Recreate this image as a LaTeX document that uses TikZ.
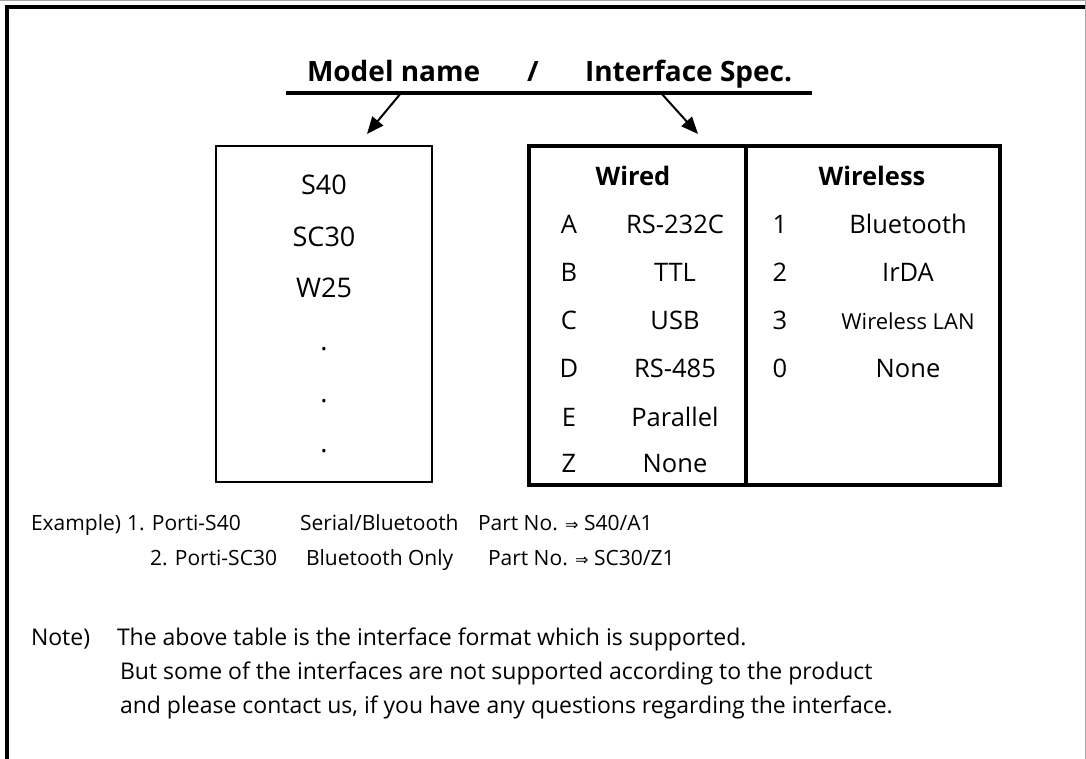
\documentclass[tikz,border=0pt]{standalone}
\usepackage{fontspec}
\setmainfont{Open Sans}
\newfontfamily\symfont{DejaVu Sans}
\usetikzlibrary{arrows.meta}
\tikzset{
  every node/.style={inner sep=0pt, outer sep=0pt},
  titletext/.style={font=\fontsize{28}{32}\selectfont\bfseries, anchor=base west},
  boxtext/.style={font=\fontsize{27}{32}\selectfont, anchor=base},
  tabtext/.style={font=\fontsize{25.5}{30}\selectfont, anchor=base},
  tabhead/.style={font=\fontsize{25.5}{30}\selectfont\bfseries, anchor=base},
  extext/.style={font=\fontsize{21}{26}\selectfont, anchor=base west},
  bodytext/.style={font=\fontsize{23}{27}\selectfont, anchor=base west},
  pointer/.style={line width=2pt, -{Triangle[length=17pt,width=14pt]}},
  thinbox/.style={draw, line width=1.5pt},
  thickbox/.style={draw, line width=4pt},
}
\newcommand{\Rarr}{{\symfont\fontsize{16}{20}\selectfont ⇒}}
\begin{document}
\begin{tikzpicture}[x=1pt,y=-1pt]
\useasboundingbox (0,0) rectangle (1086,759);
% page frame
\draw[gray!70, line width=1pt] (0,1) -- (1085,1) -- (1085,759);
\draw[line width=4pt] (7,759) -- (7,7) -- (1085,7);

% title
\node[titletext] (mn) at (307,82) {Model name};
\node[titletext, anchor=base] (sl) at (533,82) {/};
\node[titletext] (is) at (585,82) {Interface Spec.};
\coordinate (ulA) at (286,93);
\coordinate (ulB) at (812,93);
\draw[line width=4.5pt] (ulA) -- (ulB);
\coordinate (p1s) at (401,93);
\coordinate (p1e) at (367,134);
\coordinate (p2s) at (661,93);
\coordinate (p2e) at (698,134);
\draw[pointer] (p1s) -- (p1e);
\draw[pointer] (p2s) -- (p2e);

% model box
\node[thinbox, anchor=north west, minimum width=216pt, minimum height=336pt] (mbox) at (216,146) {};
\node[boxtext] (m1) at (324,195) {S40};
\node[boxtext] (m2) at (324,247) {SC30};
\node[boxtext] (m3) at (324,297) {W25};
\node[boxtext] (d1) at (324,350) {.};
\node[boxtext] (d2) at (324,402) {.};
\node[boxtext] (d3) at (324,452) {.};

% interface table
\node[thickbox, anchor=north west, minimum width=217pt, minimum height=339pt] (wbox) at (529,146) {};
\node[thickbox, anchor=north west, minimum width=254pt, minimum height=339pt] (rbox) at (746,146) {};
\node[tabhead] (hw) at (633,186) {Wired};
\node[tabhead] (hr) at (872,186) {Wireless};

\node[tabtext] (wa) at (569,234) {A};
\node[tabtext] (wb) at (569,281) {B};
\node[tabtext] (wc) at (569,329) {C};
\node[tabtext] (wd) at (569,377) {D};
\node[tabtext] (we) at (569,426) {E};
\node[tabtext] (wz) at (569,472) {Z};
\node[tabtext] (va) at (675,234) {RS-232C};
\node[tabtext] (vb) at (675,281) {TTL};
\node[tabtext] (vc) at (675,329) {USB};
\node[tabtext] (vd) at (675,377) {RS-485};
\node[tabtext] (ve) at (675,426) {Parallel};
\node[tabtext] (vz) at (675,472) {None};

\node[tabtext] (r1) at (780,234) {1};
\node[tabtext] (r2) at (780,281) {2};
\node[tabtext] (r3) at (780,329) {3};
\node[tabtext] (r0) at (780,377) {0};
\node[tabtext] (s1) at (908,234) {Bluetooth};
\node[tabtext] (s2) at (908,281) {IrDA};
\node[tabtext, font=\fontsize{22}{26}\selectfont] (s3) at (908,329) {Wireless LAN};
\node[tabtext] (s0) at (908,377) {None};

% examples
\node[extext] (ex) at (31,530) {Example)};
\node[extext] (e1a) at (127,530) {1. Porti-S40};
\node[extext] (e1b) at (300,530) {Serial/Bluetooth};
\node[extext] (e1c) at (478,530) {Part No. \Rarr{} S40/A1};
\node[extext] (e2a) at (150,565) {2. Porti-SC30};
\node[extext] (e2b) at (306,565) {Bluetooth Only};
\node[extext] (e2c) at (488,565) {Part No. \Rarr{} SC30/Z1};

% note
\node[bodytext] (nt) at (31,645) {Note)};
\node[bodytext] (n1) at (117,645) {The above table is the interface format which is supported.};
\node[bodytext] (n2) at (120,679) {But some of the interfaces are not supported according to the product};
\node[bodytext] (n3) at (120,713) {and please contact us, if you have any questions regarding the interface.};
\end{tikzpicture}
\end{document}
